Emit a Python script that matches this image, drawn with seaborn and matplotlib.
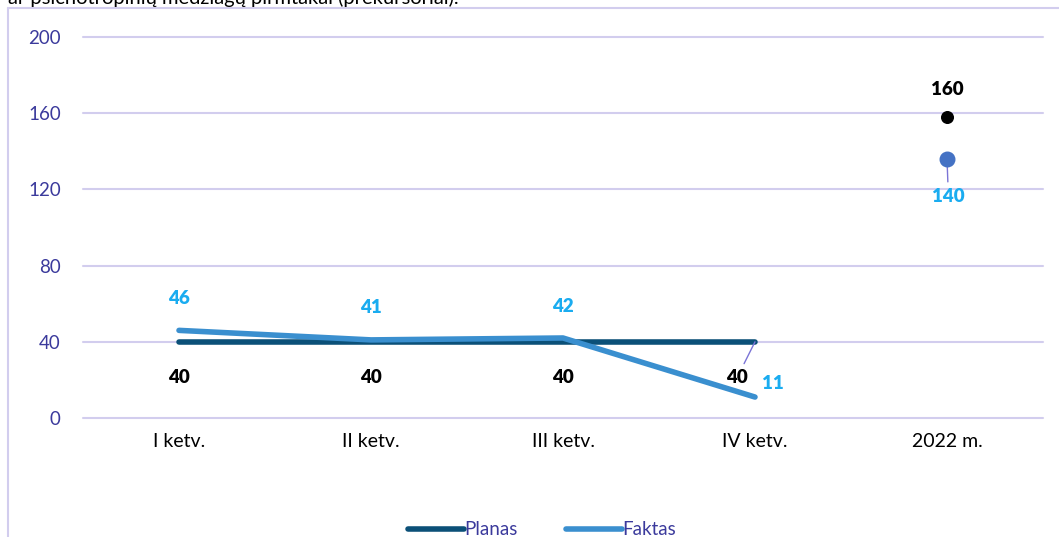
import numpy as np
import pandas as pd
import matplotlib.pyplot as plt
import seaborn as sns

# Duomenys
ketvirciai = ["I ketv.", "II ketv.", "III ketv.", "IV ketv.", "2022 m."]
planas = [40, 40, 40, 40]
faktas = [46, 41, 42, 11]
planas_2022 = 158
faktas_2022 = 136
planas_zymes = ["40", "40", "40", "40", "160"]
faktas_zymes = ["46", "41", "42", "11", "140"]

df = pd.DataFrame({
    "ketv": ketvirciai[:4] * 2,
    "reiksme": planas + faktas,
    "serija": ["Planas"] * 4 + ["Faktas"] * 4,
})

sns.set_theme(style="white")
plt.rcParams["font.family"] = ["Lato", "DejaVu Sans"]

fig = plt.figure(figsize=(10.59, 5.37), dpi=100)
ax = fig.add_axes([83 / 1059, 1 - 418 / 537, (1043 - 83) / 1059, (418 - 37) / 537])

tamsi = "#0b5078"
sviesi = "#3a8fcf"
zyme_spalva = "#1aacf0"
tinklas = "#d2cdee"
tekstas = "#3b3a9c"

sns.lineplot(data=df, x="ketv", y="reiksme", hue="serija",
             palette={"Planas": tamsi, "Faktas": sviesi},
             linewidth=4, ax=ax, sort=False, zorder=3)
for ln in ax.get_lines():
    ln.set_solid_capstyle("round")

ax.scatter([4], [planas_2022], color="black", s=70, zorder=4)
ax.scatter([4], [faktas_2022], color="#4472c4", s=110, zorder=4)

ax.set_xlim(-0.5, 4.5)
ax.set_ylim(0, 200)
ax.set_yticks(np.arange(0, 201, 40))
ax.set_xticks(range(5))
ax.set_xticklabels(ketvirciai)
ax.set_xlabel("")
ax.set_ylabel("")
ax.grid(axis="y", color=tinklas, linewidth=1.5)
for gl in ax.get_ygridlines():
    gl.set_clip_on(False)
ax.set_axisbelow(True)
for s in ax.spines.values():
    s.set_visible(False)
ax.tick_params(axis="y", colors=tekstas, labelsize=13.5, pad=16, length=0)
ax.tick_params(axis="x", colors="black", labelsize=14, pad=11, length=0)
for t in ax.get_yticklabels():
    t.set_color(tekstas)

# Duomenų žymės
bold = dict(fontsize=13.5, fontweight="heavy", ha="center", va="center")
for i in range(3):
    ax.annotate(planas_zymes[i], (i, planas[i]), xytext=(0, -26),
                textcoords="offset points", color="black", **bold)
    ax.annotate(faktas_zymes[i], (i, faktas[i]), xytext=(0, 23),
                textcoords="offset points", color=zyme_spalva, **bold)
ax.annotate(planas_zymes[3], (3, planas[3]), xytext=(-13, -26),
            textcoords="offset points", color="black",
            arrowprops=dict(arrowstyle="-", color="#7b74d6", lw=1,
                            shrinkA=2, shrinkB=0), **bold)
ax.annotate(faktas_zymes[3], (3, faktas[3]), xytext=(13, 10),
            textcoords="offset points", color=zyme_spalva, **bold)
ax.annotate(planas_zymes[4], (4, planas_2022), xytext=(0, 20),
            textcoords="offset points", color="black", **bold)
ax.annotate(faktas_zymes[4], (4, faktas_2022), xytext=(1, -27),
            textcoords="offset points", color=zyme_spalva,
            arrowprops=dict(arrowstyle="-", color="#7b74d6", lw=1,
                            shrinkA=2, shrinkB=0), **bold)

# Legenda
h, l = ax.get_legend_handles_labels()
ax.legend(h, l, loc="lower center", bbox_to_anchor=(0.478, -0.36), ncol=2,
          frameon=False, fontsize=13.5, labelcolor=tekstas, handlelength=3.0,
          handletextpad=0.0, columnspacing=2.6)

# Rėmelis ir nukirptas antraštės tekstas
fig.add_artist(plt.Line2D([8 / 1059, 8 / 1059], [0, 1 - 8 / 537],
                          color=tinklas, lw=1.5, transform=fig.transFigure))
fig.add_artist(plt.Line2D([8 / 1059, 1], [1 - 8 / 537, 1 - 8 / 537],
                          color=tinklas, lw=1.5, transform=fig.transFigure))
fig.text(8 / 1059, 1 + 2 / 537, "ar psichotropinių medžiagų pirmtakai (prekursoriai).",
         fontsize=14.5, color="black", va="center", ha="left")

fig.savefig("out.png", dpi=100)
